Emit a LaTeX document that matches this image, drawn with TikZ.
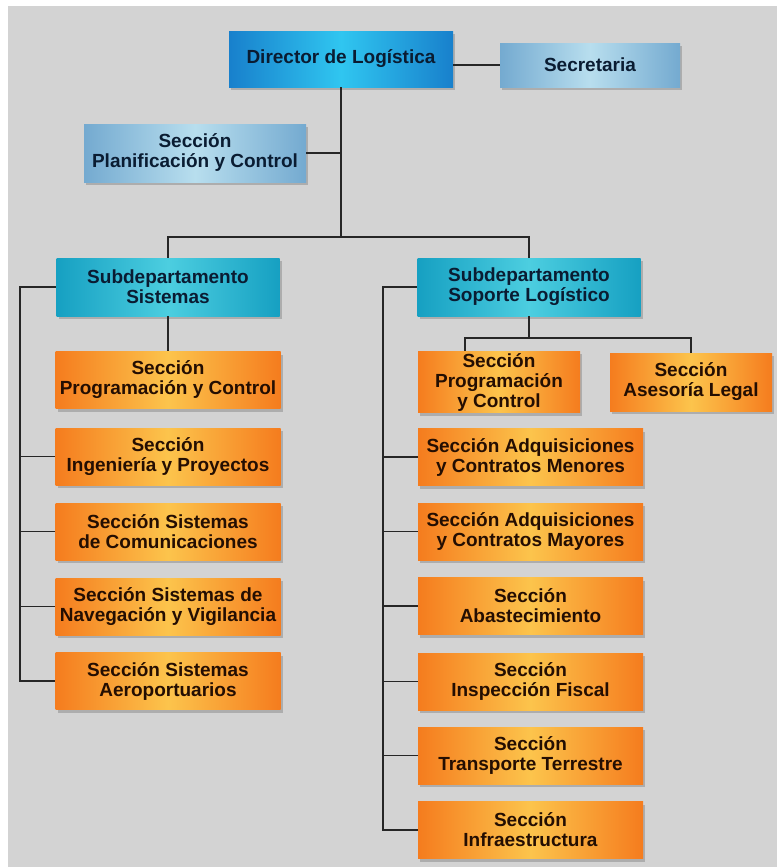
\documentclass[tikz,border=0pt]{standalone}
\usepackage{fontspec}
\setmainfont{Liberation Sans}
\usetikzlibrary{shadows}

\definecolor{bggray}{RGB}{211,211,211}
\definecolor{dirdark}{RGB}{24,128,204}
\definecolor{dirlight}{RGB}{48,198,240}
\definecolor{pale}{RGB}{116,170,208}
\definecolor{palelight}{RGB}{184,222,238}
\definecolor{subdark}{RGB}{22,160,194}
\definecolor{sublight}{RGB}{76,206,224}
\definecolor{ordark}{RGB}{245,124,30}
\definecolor{orlight}{RGB}{252,196,76}
\definecolor{navy}{RGB}{10,28,50}
\definecolor{brownish}{RGB}{36,14,2}

\tikzset{
  box/.style={rectangle, align=center, inner sep=1pt,
    font=\bfseries\fontsize{9.5}{10}\selectfont,
    drop shadow={shadow xshift=1pt, shadow yshift=-1.5pt, opacity=0.45}},
  dirbox/.style={box, left color=dirdark, right color=dirdark, middle color=dirlight,
    text=navy, minimum width=112pt, minimum height=28pt},
  palebox/.style={box, left color=pale, right color=pale, middle color=palelight,
    text=navy},
  subbox/.style={box, left color=subdark, right color=subdark, middle color=sublight,
    text=navy, minimum width=111.5pt, minimum height=29pt},
  obox/.style={box, left color=ordark, right color=ordark, middle color=orlight,
    text=brownish, minimum width=112.5pt, minimum height=28.5pt},
  link/.style={line width=0.9pt, black!85}
}

\begin{document}
\begin{tikzpicture}[x=0.5pt, y=-0.5pt]
  \useasboundingbox (0,0) rectangle (777,867);
  \fill[bggray] (8,6) rectangle (777,867);

  % top level
  \node[dirbox] (dir) at (341,59) {Director de Log\'{\i}stica};
  \node[palebox, minimum width=90pt, minimum height=22pt] (sec) at (590,65) {Secretaria};
  \node[palebox, minimum width=111pt, minimum height=29pt] (plan) at (195,153)
    {Secci\'on\\Planificaci\'on y Control};
  \coordinate (bus) at (341,237);

  % subdepartamentos
  \node[subbox] (sis) at (168,287) {Subdepartamento\\Sistemas};
  \node[subbox] (sop) at (529,287) {Subdepartamento\\Soporte Log\'{\i}stico};

  % sistemas
  \node[obox] (l1) at (168,380) {Secci\'on\\Programaci\'on y Control};
  \node[obox] (l2) at (168,456.5) {Secci\'on\\Ingenier\'{\i}a y Proyectos};
  \node[obox] (l3) at (168,531.5) {Secci\'on Sistemas\\de Comunicaciones};
  \node[obox] (l4) at (168,606.5) {Secci\'on Sistemas de\\Navegaci\'on y Vigilancia};
  \node[obox] (l5) at (168,681) {Secci\'on Sistemas\\Aeroportuarios};
  \coordinate (lrail) at (20,287);

  % soporte logistico
  \node[obox, minimum width=81pt, minimum height=29pt] (rp) at (499,382)
    {Secci\'on\\Programaci\'on\\y Control};
  \node[obox, minimum width=81pt, minimum height=29pt] (al) at (691,382)
    {Secci\'on\\Asesor\'{\i}a Legal};
  \node[obox] (r2) at (530.5,457) {Secci\'on Adquisiciones\\y Contratos Menores};
  \node[obox] (r3) at (530.5,531.5) {Secci\'on Adquisiciones\\y Contratos Mayores};
  \node[obox] (r4) at (530.5,606) {Secci\'on\\Abastecimiento};
  \node[obox] (r5) at (530.5,681.5) {Secci\'on\\Inspecci\'on Fiscal};
  \node[obox] (r6) at (530.5,755.5) {Secci\'on\\Transporte Terrestre};
  \node[obox] (r7) at (530.5,830) {Secci\'on\\Infraestructura};
  \coordinate (rrail) at (383,287);
  \coordinate (rbus) at (529,338);

  % lines
  \draw[link] (dir.south) -- (bus);
  \draw[link] (sec.west) -- (sec.west -| dir.east);
  \draw[link] (plan.east) -- (plan.east -| bus);
  \draw[link] (sis.north) |- (bus) -| (sop.north);
  \draw[link] (sis.south) -- (l1.north);
  \draw[link] (sis.west) -- (lrail) |- (l5.west);
  \foreach \n in {l2,l3,l4}
    \draw[link] (\n.west) -- (\n.west -| lrail);
  \draw[link] (sop.south) -- (rbus);
  \draw[link] ([xshift=-17pt]rp.north) |- (rbus) -| (al.north);
  \draw[link] (sop.west) -- (rrail) |- (r7.west);
  \foreach \n in {r2,r3,r4,r5,r6}
    \draw[link] (\n.west) -- (\n.west -| rrail);
\end{tikzpicture}
\end{document}
